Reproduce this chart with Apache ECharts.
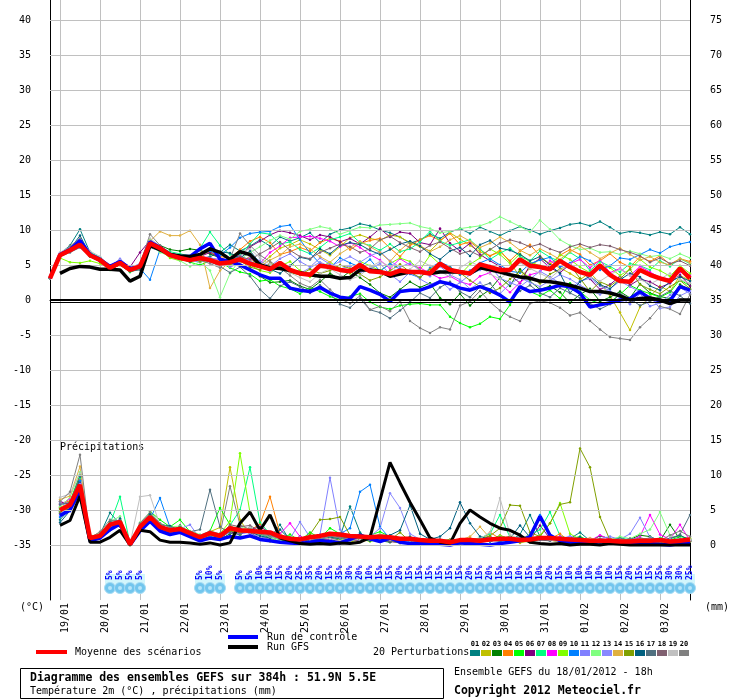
<!DOCTYPE html>
<html lang="fr">
<head>
<meta charset="UTF-8">
<title>Diagramme des ensembles GEFS</title>
<style>
  * { margin: 0; padding: 0; }
  html, body { width: 100%; height: 100%; background: #fff; }
  #chart { width: 740px; height: 700px; }
</style>
</head>
<body>
<div id="chart"></div>
<script src="https://cdn.jsdelivr.net/npm/echarts/dist/echarts.min.js"></script>
<script>
// pas de 6h, du 18/01 18h au 03/02 18h (384h)
var dates = ['18/01', '19/01', '20/01', '21/01', '22/01', '23/01', '24/01', '25/01', '26/01',
  '27/01', '28/01', '29/01', '30/01', '31/01', '01/02', '02/02', '03/02'];
var hours = ['18h', '00h', '06h', '12h'];
var steps = [];
for (var i = 0; i < 65; i++) steps.push(dates[Math.floor((i + 3) / 4)] + ' ' + hours[i % 4]);

var tempTicks = [-35, -30, -25, -20, -15, -10, -5, 0, 5, 10, 15, 20, 25, 30, 35, 40];

var pertColors = ['#008080', '#c0c000', '#008000', '#ff8000', '#00ff00', '#800080', '#00ff80',
  '#ff00ff', '#80ff00', '#0080ff', '#8080ff', '#80ff80', '#8888ff', '#e0b040', '#80a000',
  '#006080', '#507080', '#806070', '#c0c0c0', '#808080'];

// température 2m
var tempMean = [
  3.1, 6.4, 7.1, 7.9, 6.4, 5.7, 4.6, 5.3, 4.3, 4.8,
  8.1, 7.4, 6.4, 6.0, 5.7, 6.0, 5.7, 5.2, 5.4, 5.8,
  5.2, 4.8, 4.4, 5.3, 4.3, 3.8, 3.6, 4.9, 4.7, 4.3,
  4.1, 5.0, 4.1, 4.0, 3.7, 4.2, 4.0, 4.0, 3.8, 5.2,
  4.3, 4.0, 3.8, 5.1, 4.7, 4.3, 4.3, 5.8, 4.9, 4.7,
  4.4, 5.6, 4.7, 4.0, 3.6, 4.9, 3.6, 2.7, 2.6, 4.3,
  3.6, 3.1, 2.7, 4.5, 3.1];
var tempCtrl = [
  3.1, 6.5, 7.2, 8.5, 6.5, 5.8, 4.8, 5.5, 4.5, 4.7,
  8.3, 7.5, 6.5, 6.2, 6.2, 7.3, 8.1, 5.8, 5.5, 5.0,
  4.3, 3.6, 3.1, 3.1, 1.7, 1.4, 1.2, 1.8, 1.0, 0.4,
  0.2, 1.9, 1.4, 0.8, -0.2, 1.2, 1.4, 1.4, 1.9, 2.6,
  2.3, 1.7, 1.4, 1.9, 1.4, 0.7, -0.3, 1.9, 1.2, 1.4,
  1.7, 2.1, 1.9, 1.0, -1.0, -0.7, -0.4, 0.0, 0.2, 1.2,
  0.2, -0.1, -0.1, 1.9, 1.4];
var tempGfs = [
  null, 3.8, 4.5, 4.8, 4.7, 4.4, 4.4, 4.3, 2.7, 3.4,
  7.8, 7.2, 6.5, 6.3, 6.2, 6.5, 7.3, 6.8, 5.8, 6.9,
  6.5, 5.0, 4.6, 4.5, 4.2, 3.9, 3.6, 3.4, 3.4, 3.1,
  3.2, 4.3, 4.3, 4.1, 3.4, 3.7, 4.0, 4.0, 3.8, 4.0,
  4.0, 4.0, 3.8, 4.6, 4.3, 4.0, 3.6, 3.3, 3.1, 2.7,
  2.6, 2.4, 2.1, 1.7, 1.2, 1.2, 1.0, 0.6, 0.0, 0.2,
  0.3, 0.0, -0.5, 0.0, 0.0];

var t01 = [3.1, 6.6, 7.8, 10.1, 6.8, 6.0, 4.9, 5.5, 4.4, 4.6,
  8.4, 7.0, 6.2, 5.8, 5.6, 5.9, 6.2, 6.8, 7.9, 7.0,
  7.7, 8.6, 7.7, 9.0, 8.4, 8.9, 9.6, 8.2, 9.4, 10.0,
  10.3, 10.9, 10.6, 10.0, 9.6, 9.0, 8.1, 8.6, 9.4, 8.8,
  9.7, 10.2, 9.5, 10.4, 9.8, 9.2, 9.9, 10.5, 10.0, 9.4,
  9.9, 10.3, 10.8, 11.0, 10.6, 11.2, 10.4, 9.5, 9.8, 9.6,
  9.3, 9.7, 9.4, 10.4, 9.4];
var t02 = [3.1, 6.3, 7.0, 8.0, 6.5, 5.8, 4.7, 5.2, 4.2, 4.9,
  8.2, 7.6, 6.5, 6.1, 5.8, 5.6, 5.9, 5.3, 5.5, 6.0,
  5.8, 5.0, 6.2, 7.4, 7.9, 8.6, 8.0, 7.2, 6.4, 7.6,
  8.9, 9.3, 8.8, 8.5, 9.3, 9.0, 8.2, 7.6, 7.0, 8.4,
  9.6, 8.7, 7.8, 6.9, 6.3, 7.1, 5.4, 3.3, 4.5, 6.0,
  5.2, 4.6, 3.8, 2.9, 3.9, 2.4, 0.6, -1.8, -4.3, -1.0,
  0.5, 2.0, 1.2, 3.5, 2.8];
var t03 = [3.1, 6.2, 6.9, 7.6, 6.2, 5.5, 4.4, 5.0, 4.0, 4.5,
  7.9, 7.8, 7.2, 7.0, 7.3, 7.1, 6.6, 6.0, 5.3, 5.0,
  4.4, 3.4, 2.5, 2.6, 2.8, 2.0, 1.5, 2.6, 3.8, 3.0,
  4.1, 3.2, 2.2, 1.0, 0.4, 1.5, 2.6, 1.8, 2.4, 0.3,
  -0.6, 0.9, -0.8, 0.5, 1.5, 3.2, 2.0, 4.4, 2.7, 1.5,
  2.0, 1.1, -0.4, 0.8, 1.6, -0.2, 0.4, 1.2, 0.3, 2.3,
  1.0, 0.5, 0.2, 2.2, 1.5];
var t04 = [3.1, 6.5, 7.3, 8.2, 6.6, 5.9, 4.8, 5.4, 4.5, 5.1,
  8.0, 7.2, 6.5, 6.0, 5.8, 6.4, 6.9, 6.2, 6.0, 7.2,
  8.4, 9.0, 8.2, 6.5, 6.9, 7.5, 7.0, 8.2, 8.8, 8.4,
  7.2, 8.1, 8.5, 8.8, 7.4, 6.2, 7.8, 8.6, 9.2, 8.5,
  9.5, 7.9, 8.3, 7.2, 6.3, 6.9, 5.6, 7.0, 7.9, 6.3,
  5.1, 6.4, 7.2, 6.5, 5.0, 5.6, 6.6, 5.4, 4.7, 6.2,
  5.5, 6.3, 5.1, 5.9, 5.5];
var t05 = [3.1, 6.4, 7.0, 7.7, 6.3, 5.6, 4.3, 5.1, 4.0, 4.6,
  7.8, 7.0, 6.2, 5.9, 5.4, 5.0, 5.6, 5.4, 4.6, 4.0,
  3.7, 2.7, 2.9, 2.0, 1.6, 0.9, 1.8, 1.2, 0.5, 0.0,
  0.5, 0.9, -0.3, -1.0, -1.3, -0.8, -0.6, -0.5, -0.7, -0.7,
  -2.4, -3.3, -3.9, -3.4, -2.4, -2.7, -0.7, 1.9, 1.2, 0.6,
  1.4, 0.2, 2.4, 1.2, 0.0, -0.5, -0.3, 0.8, 2.1, 1.4,
  0.9, 0.4, 1.1, 2.9, 2.0];
var t06 = [3.1, 6.6, 7.2, 8.0, 6.6, 5.9, 4.9, 5.7, 4.7, 6.8,
  8.5, 7.2, 6.3, 5.8, 5.5, 6.2, 6.8, 6.0, 5.6, 6.4,
  7.6, 8.4, 9.3, 9.9, 9.6, 9.2, 8.6, 9.3, 9.0, 8.3,
  8.8, 8.0, 9.0, 10.2, 9.0, 9.7, 9.5, 8.2, 7.9, 10.2,
  8.1, 7.0, 8.1, 6.5, 5.6, 4.8, 3.6, 2.4, 5.0, 5.9,
  4.6, 3.9, 5.1, 4.2, 3.0, 1.5, 2.2, 3.4, 2.1, 3.0,
  2.6, 1.8, 2.4, 3.6, 2.0];
var t07 = [3.1, 6.3, 7.4, 8.3, 6.8, 6.1, 4.5, 5.2, 4.1, 4.4,
  7.6, 7.5, 6.9, 6.6, 6.3, 7.4, 9.7, 7.8, 6.5, 6.5,
  8.0, 9.6, 9.4, 8.0, 8.3, 7.2, 6.6, 7.5, 8.6, 9.0,
  9.5, 8.2, 7.8, 7.1, 8.0, 6.9, 7.3, 8.3, 9.8, 8.4,
  7.8, 8.2, 8.6, 7.3, 5.8, 6.7, 7.4, 6.2, 5.6, 7.0,
  6.1, 5.5, 6.8, 5.9, 4.2, 5.5, 4.8, 4.0, 5.2, 4.9,
  4.3, 5.6, 4.8, 5.9, 5.2];
var t08 = [3.1, 6.7, 7.3, 8.1, 6.7, 5.8, 4.8, 5.5, 4.3, 4.9,
  8.3, 7.5, 6.6, 6.1, 5.9, 6.3, 6.0, 5.7, 5.2, 5.6,
  5.9, 5.2, 6.8, 7.7, 8.9, 9.0, 9.1, 8.8, 8.4, 7.6,
  8.2, 7.5, 6.5, 5.7, 4.5, 5.9, 5.0, 4.6, 3.8, 3.1,
  3.4, 2.6, 2.2, 3.4, 3.9, 2.3, 1.1, 2.5, 3.6, 4.0,
  5.6, 4.8, 5.2, 5.8, 4.6, 5.7, 3.9, 4.5, 3.5, 4.8,
  4.0, 3.2, 3.0, 4.0, 3.6];
var t09 = [3.1, 6.0, 5.4, 5.3, 5.6, 5.2, 4.5, 5.0, 4.2, 4.8,
  8.6, 7.1, 6.0, 5.6, 5.9, 6.4, 5.8, 5.2, 5.8, 6.0,
  5.0, 4.2, 3.9, 4.8, 5.5, 4.2, 3.3, 4.7, 5.4, 4.5,
  3.8, 5.5, 4.9, 4.2, 5.2, 6.0, 5.5, 4.3, 6.4, 5.1,
  4.3, 3.6, 5.1, 6.0, 7.3, 6.5, 5.2, 6.6, 5.4, 4.9,
  4.3, 6.5, 5.8, 4.7, 3.9, 5.1, 4.6, 3.5, 4.4, 5.8,
  4.7, 4.2, 3.4, 4.9, 3.8];
var t10 = [3.1, 6.5, 7.2, 8.4, 6.4, 5.6, 4.7, 5.4, 4.4, 4.5,
  2.9, 7.2, 6.7, 6.2, 5.8, 6.5, 7.0, 6.4, 7.5, 8.9,
  9.5, 9.7, 9.8, 10.5, 10.7, 8.6, 6.7, 5.2, 4.6, 6.0,
  5.3, 4.7, 5.8, 4.1, 5.2, 4.4, 3.7, 3.2, 4.6, 5.4,
  4.8, 3.6, 4.2, 5.3, 5.9, 5.0, 4.1, 3.9, 5.2, 5.7,
  6.1, 4.7, 5.3, 6.2, 5.6, 4.3, 4.9, 6.0, 5.8, 6.5,
  7.2, 6.7, 7.6, 8.0, 8.3];
var t11 = [3.1, 6.4, 7.0, 7.6, 6.7, 6.0, 4.6, 5.9, 4.5, 5.0,
  8.0, 7.3, 6.4, 6.0, 5.7, 5.4, 6.0, 5.8, 4.7, 5.3,
  6.2, 5.6, 4.8, 5.9, 6.6, 5.5, 4.7, 6.0, 5.1, 4.4,
  4.9, 3.9, 4.5, 5.2, 3.7, 2.6, 4.0, 3.0, 2.2, 2.8,
  1.5, 2.5, 3.6, 4.3, 4.9, 3.1, 2.5, 1.9, 3.0, 4.1,
  3.3, 2.4, 1.6, 2.7, 3.1, 2.0, 1.3, 0.4, -0.6, 0.9,
  -0.9, -0.4, 0.7, 1.8, 0.9];
var t12 = [3.1, 6.3, 7.1, 7.7, 6.3, 5.7, 4.4, 5.2, 4.4, 4.6,
  7.9, 6.8, 6.3, 5.6, 4.8, 5.5, 4.2, 0.4, 3.8, 5.8,
  6.8, 7.6, 8.5, 9.2, 8.7, 9.8, 10.1, 10.5, 10.2, 9.4,
  9.9, 10.4, 10.3, 10.7, 10.8, 10.9, 11.0, 10.5, 10.2, 9.6,
  9.8, 10.2, 10.4, 10.6, 11.1, 11.9, 11.2, 10.5, 9.7, 11.4,
  10.1, 8.6, 7.8, 7.2, 7.4, 6.8, 6.9, 6.5, 7.0, 6.6,
  6.2, 6.4, 5.9, 6.6, 6.0];
var t13 = [3.1, 6.6, 7.5, 8.3, 6.5, 5.6, 4.8, 5.8, 4.6, 5.2,
  8.2, 7.1, 6.6, 6.3, 5.8, 6.1, 5.4, 5.0, 5.9, 6.3,
  5.6, 4.9, 4.1, 5.2, 4.5, 3.8, 4.6, 5.4, 4.8, 5.5,
  6.2, 5.4, 6.3, 6.9, 5.6, 4.7, 5.3, 4.2, 3.4, 4.8,
  3.6, 2.9, 1.6, 2.5, 1.1, 0.9, 2.3, 3.2, 2.5, 1.9,
  2.8, 3.6, 3.0, 2.1, 1.4, 0.8, 1.6, 2.7, 1.9, 1.2,
  0.5, -1.2, -1.0, 0.6, 1.3];
var t14 = [3.1, 6.5, 7.0, 7.9, 6.4, 5.8, 4.6, 5.3, 4.3, 4.8,
  8.4, 9.8, 9.2, 9.2, 9.9, 7.9, 1.7, 4.2, 5.5, 5.2,
  6.3, 4.8, 5.7, 6.4, 7.6, 8.0, 7.3, 6.2, 5.4, 6.6,
  7.5, 8.4, 7.6, 6.8, 5.5, 7.1, 8.3, 7.8, 6.9, 7.6,
  8.6, 9.2, 8.4, 7.5, 8.1, 9.0, 8.2, 7.1, 6.4, 7.3,
  6.6, 5.8, 6.9, 7.7, 6.8, 5.9, 6.7, 7.4, 6.5, 5.7,
  6.2, 5.4, 5.0, 5.9, 5.3];
var t15 = [3.1, 6.5, 7.1, 8.0, 6.3, 5.7, 4.5, 5.4, 4.2, 4.7,
  8.0, 7.4, 6.5, 6.2, 6.0, 5.5, 5.9, 5.5, 5.0, 5.6,
  4.7, 4.3, 5.2, 4.8, 3.9, 3.6, 4.4, 3.8, 4.2, 5.0,
  4.5, 3.7, 2.8, 3.3, 4.2, 5.1, 4.0, 3.2, 4.4, 5.3,
  4.6, 3.9, 2.8, 1.9, 1.0, 1.7, 3.0, 4.1, 3.2, 2.4,
  3.7, 4.4, 5.0, 3.1, 1.2, 2.6, 2.0, 3.0, 4.4, 2.2,
  1.5, 0.9, 1.9, 2.8, 1.6];
var t16 = [3.1, 6.4, 7.3, 9.2, 6.5, 5.9, 4.6, 5.3, 4.4, 4.6,
  7.7, 7.2, 6.6, 6.2, 5.5, 6.4, 7.4, 6.9, 6.7, 6.0,
  7.0, 5.3, 4.4, 3.8, 4.9, 6.1, 5.8, 7.3, 6.6, 7.8,
  8.2, 7.9, 7.1, 6.5, 7.2, 8.0, 8.4, 7.7, 6.6, 5.8,
  7.0, 7.5, 6.3, 7.9, 8.5, 7.4, 7.1, 6.5, 5.6, 6.2,
  5.0, 3.8, 1.0, 2.6, 3.4, 2.2, 1.6, 2.9, 3.8, 3.3,
  2.0, 1.4, 2.6, 3.3, 2.7];
var t17 = [3.1, 6.2, 6.8, 7.5, 6.2, 5.5, 4.7, 5.0, 4.1, 4.3,
  7.5, 7.0, 6.4, 6.2, 5.9, 5.7, 5.5, 4.8, 3.9, 4.7,
  3.4, 1.5, 0.2, 2.0, 2.6, 1.9, 1.0, 2.1, 0.9, -0.6,
  -1.1, 0.2, -1.4, -1.8, -2.6, -1.5, -0.3, 1.0, 0.3, 1.8,
  2.6, 1.2, 0.4, 1.9, 2.4, 0.6, -0.2, 1.3, 2.1, 1.0,
  0.4, 1.7, 1.0, 0.3, -0.5, -1.3, -0.6, 0.9, 0.2, -0.8,
  -0.2, 0.5, 1.3, 0.6, -0.5];
var t18 = [3.1, 6.5, 7.1, 7.8, 6.4, 5.6, 4.7, 5.4, 4.2, 4.8,
  8.0, 7.6, 6.7, 6.4, 6.1, 5.8, 5.5, 5.3, 5.7, 6.2,
  5.8, 6.6, 7.4, 8.3, 7.1, 6.2, 5.9, 6.8, 7.4, 8.0,
  7.6, 6.8, 7.3, 8.6, 9.1, 8.2, 7.5, 6.9, 7.8, 8.3,
  7.4, 6.6, 7.0, 6.3, 7.2, 8.1, 8.6, 8.2, 7.6, 8.0,
  7.3, 6.8, 7.6, 8.0, 7.5, 7.9, 7.7, 7.2, 6.8, 6.3,
  5.4, 6.0, 5.2, 5.6, 4.9];
var t19 = [3.1, 6.8, 7.6, 8.6, 7.0, 6.2, 4.9, 5.6, 4.6, 5.0,
  8.8, 7.7, 6.6, 6.1, 5.6, 5.9, 5.8, 4.9, 5.5, 6.8,
  7.3, 6.0, 5.1, 4.5, 3.9, 3.2, 2.6, 3.8, 4.5, 3.6,
  2.9, 3.5, 4.7, 5.5, 4.8, 3.9, 4.4, 5.6, 4.9, 4.1,
  3.3, 4.6, 5.5, 4.8, 3.7, 3.0, 4.2, 5.3, 4.5, 3.8,
  3.1, 4.3, 5.1, 4.2, 3.3, 2.7, 3.6, 4.4, 3.5, 2.9,
  2.3, 3.0, 3.8, 2.9, 2.4];
var t20 = [3.1, 6.4, 7.7, 8.8, 6.6, 5.7, 4.6, 5.2, 4.4, 5.1,
  9.4, 7.8, 6.5, 6.0, 5.8, 5.7, 5.2, 4.6, 5.9, 9.5,
  7.8, 6.4, 5.5, 4.6, 3.5, 2.4, 1.8, 2.9, 1.5, 0.2,
  -0.5, 0.6, -1.4, -0.9, -1.6, -0.2, -3.0, -4.0, -4.7, -3.9,
  -4.2, -0.8, -0.2, 1.3, -0.3, -1.5, -2.4, -3.0, -0.5, -0.1,
  -0.4, -1.1, -2.2, -1.8, -3.0, -4.2, -5.3, -5.5, -5.7, -3.9,
  -2.6, -0.9, -1.3, -2.0, 0.8];

// précipitations (mm, échelle de droite)
var rainMean = [
  null, 5.0, 5.7, 8.6, 1.0, 1.3, 2.9, 3.3, 0.1, 2.6,
  4.0, 2.6, 2.1, 2.3, 1.7, 1.1, 1.7, 1.3, 2.4, 2.1,
  2.0, 1.9, 1.8, 1.2, 0.9, 0.8, 1.1, 1.3, 1.6, 1.5,
  1.3, 1.2, 1.1, 1.2, 1.1, 0.9, 0.9, 0.7, 0.6, 0.6,
  0.4, 0.7, 0.7, 0.6, 0.8, 0.9, 0.9, 0.7, 0.8, 1.0,
  1.0, 0.9, 0.8, 0.7, 0.6, 0.6, 0.6, 0.5, 0.5, 0.6,
  0.6, 0.7, 0.5, 0.6, 0.8];
var rainCtrl = [
  null, 4.2, 5.0, 7.8, 0.6, 1.0, 2.2, 3.0, 0.0, 2.0,
  3.4, 2.0, 1.5, 1.8, 1.2, 0.6, 1.0, 0.8, 1.2, 1.0,
  1.3, 0.8, 0.6, 0.4, 0.3, 0.2, 0.4, 0.6, 0.5, 0.3,
  0.8, 1.4, 0.9, 0.5, 1.0, 0.4, 0.2, 0.3, 0.2, 0.1,
  0.0, 0.3, 0.2, 0.1, 0.0, 0.2, 0.4, 0.6, 1.2, 4.1,
  1.4, 0.6, 0.3, 0.4, 0.2, 0.5, 0.3, 0.1, 0.2, 0.4,
  0.2, 0.1, 0.0, 0.2, 0.3];
var rainGfs = [
  null, 2.8, 3.5, 7.0, 0.4, 0.4, 1.1, 2.1, 0.0, 2.1,
  1.9, 0.7, 0.4, 0.4, 0.3, 0.1, 0.3, 0.0, 0.3, 3.1,
  4.7, 2.1, 4.3, 1.0, 0.6, 0.2, 0.1, 0.2, 0.1, 0.3,
  0.2, 0.4, 1.1, 6.4, 11.8, 8.9, 6.1, 3.6, 1.0, 0.4,
  0.2, 3.1, 5.0, 4.0, 3.1, 2.4, 2.1, 1.4, 0.4, 0.2,
  0.1, 0.2, 0.0, 0.1, 0.1, 0.0, 0.2, 0.1, 0.0, 0.0,
  0.0, 0.0, 0.0, 0.0, 0.0];

var r01 = [null, 3.6, 5.2, 9.0, 1.2, 1.5, 4.6, 3.0, 0.1, 2.2,
  3.6, 2.3, 1.8, 2.6, 1.4, 0.8, 1.2, 0.9, 2.0, 1.4,
  2.6, 1.5, 1.0, 2.9, 0.6, 0.4, 0.9, 0.7, 1.5, 1.2,
  5.5, 1.8, 0.6, 1.0, 0.8, 0.5, 1.2, 0.4, 0.3, 0.6,
  0.2, 0.4, 0.8, 0.5, 1.0, 0.7, 0.6, 1.5, 4.3, 1.2,
  0.8, 0.5, 0.9, 1.8, 0.6, 0.3, 0.4, 0.8, 0.5, 0.4,
  0.9, 0.6, 0.3, 0.5, 0.7];
var r02 = [null, 5.4, 6.0, 8.2, 0.9, 1.2, 2.6, 3.5, 0.0, 2.9,
  4.2, 2.8, 2.2, 2.0, 1.5, 0.9, 1.9, 2.5, 11.1, 3.6,
  1.4, 0.8, 0.5, 1.3, 0.4, 0.9, 0.3, 0.6, 1.0, 0.7,
  0.4, 0.8, 1.2, 0.5, 0.9, 0.3, 0.6, 0.2, 0.4, 0.8,
  0.3, 0.1, 0.5, 0.9, 0.6, 1.4, 0.8, 0.3, 0.6, 1.1,
  0.7, 0.4, 0.8, 0.5, 0.3, 0.9, 0.4, 0.2, 0.6, 0.8,
  0.5, 0.3, 0.6, 0.4, 1.0];
var r03 = [null, 4.8, 5.5, 7.6, 0.8, 1.0, 3.2, 2.8, 0.2, 2.4,
  3.9, 2.5, 1.6, 2.8, 1.2, 0.6, 1.1, 0.8, 1.6, 2.2,
  1.8, 0.9, 1.4, 0.7, 0.5, 1.2, 0.6, 0.8, 0.4, 1.0,
  0.7, 1.5, 0.9, 0.6, 0.4, 0.8, 0.3, 0.5, 0.9, 0.4,
  0.2, 0.6, 0.3, 0.7, 0.5, 0.9, 1.2, 0.6, 0.4, 0.8,
  1.0, 0.5, 0.7, 0.4, 0.6, 1.3, 0.9, 0.5, 0.8, 1.4,
  1.2, 0.6, 2.9, 0.8, 0.5];
var r04 = [null, 5.9, 6.3, 9.4, 1.1, 1.4, 2.7, 3.6, 0.1, 2.7,
  4.3, 2.6, 2.4, 2.2, 1.8, 1.2, 1.5, 1.0, 2.6, 1.8,
  2.1, 3.0, 6.9, 1.6, 0.8, 0.5, 1.1, 0.6, 0.9, 1.3,
  0.8, 0.5, 0.7, 1.0, 0.6, 0.4, 0.7, 0.3, 0.5, 0.2,
  0.4, 0.6, 1.0, 0.7, 1.8, 0.9, 0.5, 0.8, 0.6, 1.2,
  0.9, 1.6, 0.5, 0.7, 0.4, 0.3, 0.8, 0.6, 0.4, 0.5,
  0.7, 0.9, 0.4, 0.6, 0.8];
var r05 = [null, 4.5, 6.2, 10.0, 1.3, 1.1, 2.4, 3.2, 0.0, 2.0,
  4.8, 3.6, 2.6, 3.6, 1.9, 1.0, 2.0, 5.3, 2.9, 1.5,
  2.4, 1.8, 1.2, 0.8, 1.5, 0.6, 1.8, 1.0, 2.4, 1.6,
  1.1, 0.8, 1.4, 1.9, 1.2, 0.7, 0.9, 0.6, 0.4, 0.7,
  0.3, 0.5, 0.9, 0.6, 0.8, 1.3, 0.9, 0.7, 1.1, 0.8,
  1.4, 0.7, 0.9, 1.2, 0.6, 0.4, 0.7, 0.5, 0.9, 0.6,
  0.8, 0.4, 0.7, 1.2, 0.9];
var r06 = [null, 6.2, 5.8, 8.8, 0.7, 1.6, 2.8, 3.4, 0.1, 2.5,
  3.8, 2.4, 1.9, 2.1, 1.6, 1.3, 1.4, 1.0, 1.9, 1.7,
  2.2, 2.6, 1.8, 1.0, 0.7, 0.4, 0.8, 1.2, 0.9, 0.6,
  0.9, 0.7, 1.1, 0.8, 0.5, 0.3, 0.6, 0.4, 0.2, 0.5,
  0.6, 0.3, 0.4, 0.8, 1.2, 0.6, 0.9, 1.0, 0.7, 2.8,
  0.9, 0.6, 1.1, 0.5, 0.8, 0.4, 0.5, 0.7, 0.3, 0.6,
  0.4, 0.8, 0.5, 0.3, 0.6];
var r07 = [null, 5.2, 5.6, 9.6, 0.9, 1.2, 3.0, 6.9, 0.2, 2.8,
  4.4, 2.9, 2.0, 2.5, 1.6, 1.0, 1.8, 1.2, 2.8, 5.0,
  11.1, 3.2, 1.6, 1.0, 0.9, 0.5, 1.3, 0.8, 1.1, 0.9,
  0.6, 1.0, 0.7, 0.5, 0.9, 0.4, 0.7, 0.5, 0.3, 0.6,
  0.2, 0.5, 0.8, 1.0, 1.6, 4.3, 1.1, 0.8, 1.5, 2.2,
  4.7, 1.3, 0.8, 0.6, 0.9, 0.5, 0.7, 1.1, 0.6, 0.8,
  0.5, 1.0, 0.7, 0.5, 0.9];
var r08 = [null, 5.7, 6.6, 8.4, 1.0, 1.5, 2.5, 3.1, 0.0, 3.0,
  3.5, 2.2, 2.3, 1.9, 1.8, 1.1, 1.6, 1.4, 2.2, 1.6,
  1.9, 1.3, 0.9, 1.6, 3.1, 1.2, 0.7, 1.0, 0.8, 1.4,
  0.9, 0.6, 0.8, 0.5, 0.7, 0.4, 0.6, 0.3, 0.5, 0.4,
  0.3, 0.6, 0.4, 0.9, 0.7, 1.0, 0.8, 0.6, 0.9, 1.3,
  0.8, 1.2, 0.7, 0.9, 0.6, 1.4, 0.8, 0.5, 0.7, 1.2,
  4.3, 1.5, 0.8, 2.9, 0.6];
var r09 = [null, 4.9, 5.3, 8.0, 1.4, 1.3, 2.2, 2.9, 0.1, 2.3,
  4.1, 2.7, 2.1, 2.4, 1.5, 0.7, 1.3, 1.6, 3.4, 13.1,
  4.6, 1.9, 1.1, 0.9, 0.6, 0.8, 1.0, 0.5, 1.3, 0.8,
  0.6, 0.9, 0.5, 0.8, 0.6, 0.3, 0.5, 0.7, 0.4, 0.6,
  0.5, 0.3, 0.7, 0.5, 0.9, 0.6, 1.2, 0.9, 0.7, 1.4,
  3.1, 6.0, 1.6, 0.8, 0.5, 0.7, 0.4, 0.6, 0.8, 0.5,
  0.7, 0.6, 0.4, 0.8, 0.5];
var r10 = [null, 4.0, 5.9, 9.2, 0.8, 1.0, 2.9, 3.3, 0.2, 2.6,
  3.7, 6.7, 2.5, 2.0, 1.4, 1.4, 1.7, 1.1, 2.1, 1.9,
  2.3, 1.6, 1.2, 0.9, 1.1, 0.6, 0.9, 0.7, 1.2, 1.6,
  2.4, 7.6, 8.6, 2.6, 0.9, 0.5, 0.8, 0.4, 0.6, 0.3,
  0.5, 0.4, 0.6, 0.8, 0.5, 0.9, 1.0, 0.7, 1.3, 4.3,
  1.2, 0.7, 0.9, 0.6, 0.8, 0.5, 0.4, 0.7, 0.9, 0.6,
  0.5, 0.8, 0.6, 0.4, 0.7];
var r11 = [null, 6.0, 5.4, 7.9, 1.2, 1.4, 2.3, 3.7, 0.1, 2.8,
  4.5, 2.0, 1.7, 2.3, 2.9, 0.9, 1.5, 1.2, 1.8, 2.5,
  1.6, 1.2, 0.8, 1.4, 0.9, 3.3, 1.1, 1.5, 9.6, 2.2,
  1.0, 0.7, 1.3, 0.8, 0.6, 0.9, 0.5, 0.7, 0.4, 0.8,
  0.3, 0.5, 0.7, 0.4, 0.6, 0.8, 1.1, 0.6, 0.9, 0.7,
  1.0, 0.6, 0.8, 0.5, 0.7, 0.9, 1.2, 0.8, 1.6, 3.9,
  1.1, 0.7, 0.5, 0.9, 0.6];
var r12 = [null, 5.5, 6.8, 10.4, 1.0, 1.7, 3.3, 4.1, 0.0, 3.2,
  4.6, 3.0, 2.6, 2.7, 2.0, 1.5, 1.3, 0.9, 2.4, 2.7,
  2.0, 1.4, 1.0, 0.6, 1.2, 0.8, 1.4, 0.9, 1.7, 1.2,
  0.8, 1.3, 0.9, 1.6, 1.1, 0.7, 0.9, 0.6, 0.8, 0.5,
  0.6, 0.8, 0.5, 1.0, 0.7, 1.2, 0.9, 0.6, 0.8, 1.1,
  0.9, 0.7, 1.0, 0.6, 0.8, 0.5, 0.7, 1.2, 0.9, 1.6,
  2.2, 4.7, 1.4, 0.8, 0.6];
var r13 = [null, 4.3, 4.8, 8.7, 0.6, 0.9, 2.6, 2.7, 0.1, 2.1,
  3.3, 2.1, 1.5, 1.7, 1.3, 0.8, 1.6, 1.3, 2.3, 1.6,
  1.8, 2.0, 1.3, 0.8, 0.6, 1.0, 0.7, 0.9, 1.4, 1.0,
  0.6, 0.9, 1.2, 2.4, 7.4, 5.3, 1.6, 0.8, 0.5, 0.7,
  0.4, 0.6, 0.9, 0.5, 0.7, 0.6, 0.8, 1.1, 0.7, 0.9,
  0.6, 0.8, 1.3, 0.7, 0.5, 0.9, 0.6, 0.4, 0.7, 1.0,
  0.8, 0.5, 0.7, 0.9, 0.6];
var r14 = [null, 6.5, 7.0, 11.2, 1.1, 1.8, 2.7, 3.0, 0.2, 2.4,
  4.0, 2.6, 2.2, 2.5, 1.7, 1.2, 1.4, 1.5, 2.7, 2.1,
  2.4, 1.7, 1.5, 1.1, 0.8, 0.6, 0.9, 1.3, 1.0, 1.5,
  1.2, 0.9, 0.6, 1.0, 0.7, 0.5, 0.8, 0.6, 0.4, 0.6,
  0.5, 0.7, 1.2, 2.6, 1.0, 0.8, 0.6, 0.9, 1.4, 0.8,
  1.1, 0.9, 0.6, 0.8, 1.0, 0.7, 0.5, 0.8, 0.6, 0.9,
  0.7, 0.5, 0.8, 0.6, 0.9];
var r15 = [null, 5.0, 5.1, 8.3, 0.9, 1.1, 3.1, 3.2, 0.0, 2.6,
  3.9, 2.4, 2.0, 2.2, 1.6, 1.0, 1.5, 1.1, 2.0, 1.8,
  2.1, 1.6, 1.3, 0.9, 1.0, 0.7, 1.5, 3.6, 3.7, 4.0,
  1.4, 0.8, 0.6, 0.9, 0.7, 1.8, 0.5, 0.7, 0.4, 0.6,
  0.8, 0.5, 0.7, 0.9, 1.3, 2.4, 5.7, 5.6, 1.8, 1.2,
  3.1, 5.8, 6.1, 13.8, 11.1, 4.0, 0.7, 0.5, 0.8, 0.6,
  0.9, 0.7, 0.5, 0.8, 0.6];
var r16 = [null, 3.2, 4.9, 9.8, 0.7, 1.3, 2.1, 3.8, 0.1, 2.3,
  4.4, 2.9, 2.7, 2.1, 1.6, 1.2, 1.9, 1.4, 2.5, 2.3,
  1.9, 1.3, 1.0, 2.2, 0.8, 0.5, 1.0, 0.7, 1.1, 0.9,
  1.2, 0.8, 0.6, 0.9, 1.4, 2.1, 5.7, 1.6, 0.8, 1.2,
  2.4, 6.1, 3.1, 1.2, 0.8, 0.6, 0.9, 2.8, 1.1, 0.8,
  0.6, 0.9, 0.7, 1.1, 0.5, 0.8, 0.6, 0.9, 0.7, 0.5,
  0.8, 0.6, 0.9, 1.4, 0.7];
var r17 = [null, 5.8, 6.1, 9.9, 1.3, 1.2, 3.4, 3.5, 0.0, 2.9,
  4.1, 2.5, 2.1, 2.6, 1.9, 2.2, 7.9, 2.6, 1.7, 1.5,
  2.3, 1.8, 1.4, 1.0, 0.7, 0.9, 0.6, 1.2, 0.8, 1.3,
  0.9, 0.6, 1.0, 0.7, 0.5, 0.8, 0.6, 0.4, 0.7, 0.5,
  0.3, 0.6, 0.4, 0.9, 0.7, 0.5, 0.8, 1.2, 0.9, 0.7,
  0.6, 0.9, 0.5, 0.8, 0.6, 0.4, 0.7, 0.9, 0.6, 0.8,
  1.0, 0.7, 0.9, 1.5, 4.3];
var r18 = [null, 4.6, 5.7, 8.1, 0.8, 1.6, 3.0, 2.6, 0.3, 2.7,
  3.4, 2.3, 1.8, 2.0, 1.4, 0.9, 1.7, 1.2, 2.9, 2.6,
  2.8, 1.9, 1.4, 1.2, 0.9, 0.6, 1.0, 0.8, 1.6, 1.1,
  0.8, 1.1, 0.7, 0.9, 0.6, 0.4, 0.8, 0.5, 0.7, 0.4,
  0.6, 0.5, 0.8, 0.6, 0.9, 1.1, 0.7, 0.6, 0.8, 1.0,
  0.7, 0.5, 0.9, 0.6, 0.8, 0.5, 0.7, 0.6, 0.9, 0.7,
  0.5, 0.8, 0.6, 0.7, 0.5];
var r19 = [null, 6.8, 7.3, 10.2, 1.1, 1.4, 2.8, 3.1, 0.1, 6.9,
  7.1, 2.8, 2.3, 2.2, 1.5, 1.1, 1.6, 1.3, 2.2, 2.0,
  2.5, 1.7, 1.2, 0.9, 0.7, 1.0, 0.8, 1.1, 0.9, 0.6,
  1.0, 0.7, 0.9, 0.5, 0.8, 0.6, 0.4, 0.7, 0.5, 0.8,
  0.6, 0.4, 0.7, 0.9, 1.8, 6.7, 1.5, 0.8, 0.6, 0.9,
  0.7, 0.5, 0.8, 0.6, 0.9, 0.7, 0.5, 0.8, 0.6, 0.7,
  0.9, 0.6, 0.8, 0.5, 0.7];
var r20 = [null, 6.2, 7.6, 12.9, 1.0, 1.9, 3.6, 3.4, 0.2, 3.1,
  4.7, 3.1, 2.5, 2.3, 1.8, 1.4, 2.0, 1.6, 8.4, 2.9,
  2.2, 1.6, 1.3, 0.9, 1.1, 0.7, 1.2, 0.9, 1.3, 1.0,
  0.7, 1.0, 0.8, 0.6, 0.9, 0.5, 0.7, 0.4, 0.6, 0.8,
  0.5, 0.7, 0.6, 0.9, 0.7, 1.0, 0.8, 0.6, 0.9, 1.2,
  0.8, 0.6, 0.9, 0.7, 0.5, 0.8, 0.6, 0.9, 0.7, 1.0,
  0.8, 0.6, 1.4, 2.0, 1.2];

// probabilité de neige (%), par pas de 6h
var snowPct = [
  null, null, null, null, null, null, 5, 5, 5, 5,
  null, null, null, null, null, 5, 10, 5, null, 5,
  5, 10, 10, 15, 20, 25, 35, 20, 15, 35,
  30, 20, 10, 15, 15, 20, 15, 15, 15, 15,
  15, 15, 20, 15, 20, 15, 15, 10, 15, 10,
  20, 15, 10, 10, 10, 10, 10, 15, 20, 15,
  15, 25, 30, 30, 25];

var tempPert = [t01, t02, t03, t04, t05, t06, t07, t08, t09, t10,
  t11, t12, t13, t14, t15, t16, t17, t18, t19, t20];
var rainPert = [r01, r02, r03, r04, r05, r06, r07, r08, r09, r10,
  r11, r12, r13, r14, r15, r16, r17, r18, r19, r20];

var mono = '"DejaVu Sans Mono", monospace';
var HALF = 300 / 7; // 7 px par degré, 0 au milieu de la zone

var series = [];

// lignes de grille horizontales
series.push({
  type: 'line', data: [], silent: true, z: 1,
  markLine: {
    silent: true, symbol: 'none', animation: false, label: { show: false },
    lineStyle: { color: '#c0c0c0', width: 1, type: 'solid' },
    data: tempTicks.map(function (v) { return { yAxis: v }; })
  }
});
// ligne du zéro
series.push({
  type: 'line', data: [], silent: true, z: 2,
  markLine: {
    silent: true, symbol: 'none', animation: false, label: { show: false },
    lineStyle: { color: '#000', type: 'solid' },
    data: [{ yAxis: 0.07, lineStyle: { width: 2 } }, { yAxis: -0.33, lineStyle: { width: 1 } }]
  }
});

function pertSeries(data, color, axis) {
  return {
    type: 'line', data: data, yAxisIndex: axis, z: 3,
    symbol: 'circle', symbolSize: 2.5, showSymbol: true,
    lineStyle: { width: 1, color: color },
    itemStyle: { color: color },
    emphasis: { disabled: true }
  };
}
function mainSeries(data, color, width, axis, z) {
  return {
    type: 'line', data: data, yAxisIndex: axis, z: z,
    showSymbol: false, connectNulls: false,
    lineStyle: { width: width, color: color },
    itemStyle: { color: color },
    emphasis: { disabled: true }
  };
}

for (var k = 0; k < 20; k++) {
  series.push(pertSeries(tempPert[k], pertColors[k], 0));
  series.push(pertSeries(rainPert[k], pertColors[k], 1));
}
series.push(mainSeries(tempCtrl, '#0000ff', 3.5, 0, 4));
series.push(mainSeries(rainCtrl, '#0000ff', 3.5, 1, 4));
series.push(mainSeries(tempGfs, '#000000', 3.5, 0, 5));
series.push(mainSeries(rainGfs, '#000000', 3, 1, 5));
series.push(mainSeries(tempMean, '#ff0000', 4.5, 0, 6));
series.push(mainSeries(rainMean, '#ff0000', 4.5, 1, 6));

// bandeau de probabilité de neige
series.push({
  type: 'custom', z: 8, silent: true, clip: false,
  data: snowPct.map(function (v, idx) { return v == null ? null : [idx, v]; })
    .filter(function (d) { return d; }),
  encode: { x: 0, y: 1 },
  renderItem: function (params, api) {
    var x = api.coord([api.value(0), 0])[0];
    var bottom = params.coordSys.y + params.coordSys.height;
    return {
      type: 'group',
      children: [
        { type: 'rect', shape: { x: x - 5, y: bottom - 26, width: 10, height: 10 },
          style: { fill: '#d2f6fc' } },
        { type: 'circle', shape: { cx: x, cy: bottom - 12, r: 5.5 },
          style: { fill: '#72c6ee', stroke: '#a6dcf4', lineWidth: 1 } },
        { type: 'circle', shape: { cx: x, cy: bottom - 12, r: 2 },
          style: { fill: '#b8e6fa' } },
        { type: 'text', x: x - 0.5, y: bottom - 20, rotation: Math.PI / 2,
          style: { text: api.value(1) + '%', fill: '#0000ff', font: 'bold 8px ' + mono,
            align: 'left', verticalAlign: 'middle' } }
      ]
    };
  }
});

// légende et cartouche
var graphics = [
  { type: 'text', x: 60, y: 447, style: { text: 'Précipitations', font: '10px ' + mono, fill: '#000', verticalAlign: 'middle' } },
  { type: 'text', x: 20, y: 607, style: { text: '(°C)', font: '10px ' + mono, fill: '#000', verticalAlign: 'middle' } },
  { type: 'text', x: 705, y: 607, style: { text: '(mm)', font: '10px ' + mono, fill: '#000', verticalAlign: 'middle' } },
  { type: 'line', shape: { x1: 36, y1: 652, x2: 67, y2: 652 }, style: { stroke: '#ff0000', lineWidth: 4 } },
  { type: 'text', x: 75, y: 652, style: { text: 'Moyenne des scénarios', font: '10px ' + mono, fill: '#000', verticalAlign: 'middle' } },
  { type: 'line', shape: { x1: 228, y1: 637, x2: 258, y2: 637 }, style: { stroke: '#0000ff', lineWidth: 4 } },
  { type: 'text', x: 267, y: 637, style: { text: 'Run de contrôle', font: '10px ' + mono, fill: '#000', verticalAlign: 'middle' } },
  { type: 'line', shape: { x1: 228, y1: 647, x2: 258, y2: 647 }, style: { stroke: '#000000', lineWidth: 4 } },
  { type: 'text', x: 267, y: 647, style: { text: 'Run GFS', font: '10px ' + mono, fill: '#000', verticalAlign: 'middle' } },
  { type: 'text', x: 373, y: 652, style: { text: '20 Perturbations', font: '10px ' + mono, fill: '#000', verticalAlign: 'middle' } },
  { type: 'rect', shape: { x: 20.5, y: 668.5, width: 423, height: 30 }, style: { fill: '#fff', stroke: '#000', lineWidth: 1 } },
  { type: 'text', x: 30, y: 678, style: { text: 'Diagramme des ensembles GEFS sur 384h : 51.9N 5.5E', font: 'bold 11.5px ' + mono, fill: '#000', verticalAlign: 'middle' } },
  { type: 'text', x: 30, y: 691, style: { text: 'Température 2m (°C) , précipitations (mm)', font: '10px ' + mono, fill: '#000', verticalAlign: 'middle' } },
  { type: 'text', x: 454, y: 672, style: { text: 'Ensemble GEFS du 18/01/2012 - 18h', font: '10px ' + mono, fill: '#000', verticalAlign: 'middle' } },
  { type: 'text', x: 454, y: 691, style: { text: 'Copyright 2012 Meteociel.fr', font: 'bold 11.5px ' + mono, fill: '#000', verticalAlign: 'middle' } }
];
pertColors.forEach(function (c, n) {
  var num = (n + 1 < 10 ? '0' : '') + (n + 1);
  graphics.push({ type: 'rect', shape: { x: 470 + n * 11, y: 650, width: 10, height: 6 }, style: { fill: c } });
  graphics.push({ type: 'text', x: 475 + n * 11, y: 644, style: { text: num, font: 'bold 7px ' + mono, fill: '#000', align: 'center', verticalAlign: 'middle' } });
});

var chart = echarts.init(document.getElementById('chart'));
chart.setOption({
  animation: false,
  backgroundColor: '#fff',
  grid: [
    // zone de tracé complète
    { left: 50, right: 50, top: 0, bottom: 100, containLabel: false },
    // zone des graduations (-35..40 °C / 0..75 mm)
    { left: 50, right: 50, top: 20, bottom: 155, containLabel: false }
  ],
  xAxis: [{
    type: 'category', data: steps, boundaryGap: false, gridIndex: 0,
    axisLine: { show: true, lineStyle: { color: '#000', width: 1 } },
    axisTick: { show: false },
    axisLabel: {
      interval: function (idx) { return idx % 4 === 1; },
      rotate: 90, margin: 3, verticalAlign: 'top',
      color: '#000', fontFamily: mono, fontSize: 10,
      formatter: function (v) { return v.split(' ')[0]; }
    },
    splitLine: {
      show: true,
      interval: function (idx) { return idx % 4 === 1; },
      lineStyle: { color: '#c0c0c0', width: 1 }
    }
  }, {
    type: 'category', data: steps, boundaryGap: false, gridIndex: 1, show: false
  }],
  yAxis: [{
    type: 'value', min: -HALF, max: HALF, position: 'left', gridIndex: 0,
    axisLine: { show: true, lineStyle: { color: '#000', width: 1 } },
    axisTick: { show: false }, splitLine: { show: false }, axisLabel: { show: false }
  }, {
    type: 'value', min: 35 - HALF, max: 35 + HALF, position: 'right', gridIndex: 0,
    axisLine: { show: true, lineStyle: { color: '#000', width: 1 } },
    axisTick: { show: false }, splitLine: { show: false }, axisLabel: { show: false }
  }, {
    type: 'value', min: -35, max: 40, interval: 5, position: 'left', gridIndex: 1,
    axisLine: { show: false }, axisTick: { show: false }, splitLine: { show: false },
    axisLabel: { margin: 19, color: '#000', fontFamily: mono, fontSize: 10 }
  }, {
    type: 'value', min: 0, max: 75, interval: 5, position: 'right', gridIndex: 1,
    axisLine: { show: false }, axisTick: { show: false }, splitLine: { show: false },
    axisLabel: { margin: 20, color: '#000', fontFamily: mono, fontSize: 10 }
  }],
  graphic: graphics,
  series: series
});
</script>
</body>
</html>
